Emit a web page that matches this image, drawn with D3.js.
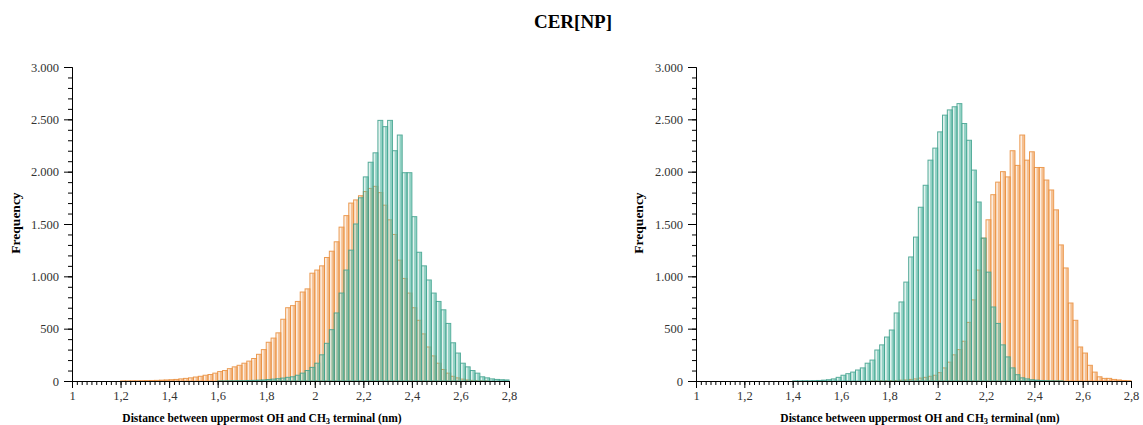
<!DOCTYPE html>
<html>
<head>
<meta charset="utf-8">
<script src="https://cdn.jsdelivr.net/npm/d3@7"></script>
<style>
  body { margin: 0; background: #fff; }
  text { font-family: "Liberation Serif", "Times New Roman", serif; }
</style>
</head>
<body>
<div id="chart"></div>
<script>
var svgWidth = 1143;
var svgHeight = 425;

// histogram bins: 0.02 nm wide, from 1 to 2.8 nm (90 bins)
var binStart = 1.0;
var binWidth = 0.02;

// left panel
var leftOrange = [
  0, 0, 0, 0, 0, 0, 0, 0, 0, 0,
  1, 1, 2, 2, 3, 4, 5, 6, 8, 10,
  12, 15, 20, 25, 30, 38, 45, 55, 62, 75,
  90, 100, 118, 135, 150, 170, 190, 215, 255, 300,
  370, 410, 460, 590, 700, 720, 760, 850, 880, 1030,
  1060, 1100, 1180, 1240, 1330, 1470, 1580, 1700, 1730, 1770,
  1810, 1840, 1860, 1800, 1680, 1540, 1400, 1155, 980, 840,
  700, 580, 450, 325, 240, 170, 110, 75, 45, 30,
  18, 10, 6, 3, 2, 1, 0, 0, 0, 0
];
var leftTeal = [
  0, 0, 0, 0, 0, 0, 0, 0, 0, 0,
  0, 0, 0, 0, 0, 0, 0, 0, 0, 0,
  0, 0, 0, 0, 0, 0, 0, 0, 0, 0,
  1, 1, 2, 2, 3, 3, 5, 6, 8, 10,
  14, 18, 22, 28, 35, 40, 55, 75, 100, 130,
  170, 250, 360, 490, 650, 840, 1060, 1250, 1500, 1750,
  1950, 2090, 2180, 2490, 2430, 2490, 2200, 2350, 1990, 1990,
  1570, 1230, 1100, 965, 840, 760, 680, 550, 365, 267,
  170, 135, 100, 75, 40, 30, 20, 15, 12, 10
];

// right panel
var rightTeal = [
  0, 0, 0, 0, 0, 0, 0, 0, 0, 0,
  0, 0, 0, 0, 0, 0, 0, 0, 0, 0,
  1, 1, 2, 2, 3, 5, 8, 12, 20, 35,
  55, 70, 85, 105, 125, 170, 200, 296, 345, 420,
  487, 650, 755, 945, 1185, 1375, 1660, 1870, 2110, 2225,
  2380, 2540, 2590, 2620, 2650, 2460, 2300, 2015, 1710, 1365,
  1040, 707, 550, 345, 230, 125, 60, 30, 20, 12,
  8, 5, 3, 2, 1, 1, 0, 0, 0, 0,
  0, 0, 0, 0, 0, 0, 0, 0, 0, 0
];
var rightOrange = [
  0, 0, 0, 0, 0, 0, 0, 0, 0, 0,
  0, 0, 0, 0, 0, 0, 0, 0, 0, 0,
  0, 0, 0, 0, 0, 0, 0, 0, 0, 0,
  0, 0, 0, 0, 0, 0, 1, 1, 2, 2,
  3, 5, 8, 10, 15, 20, 28, 35, 45, 55,
  80, 125, 180, 250, 300, 380, 560, 775, 1060, 1365,
  1540, 1780, 1900, 2000, 1950, 2200, 2060, 2350, 2110, 2190,
  2040, 2040, 1920, 1825, 1635, 1300, 1080, 745, 580, 325,
  267, 150, 85, 40, 25, 25, 15, 10, 5, 3
];

var xTicks = [1, 1.2, 1.4, 1.6, 1.8, 2, 2.2, 2.4, 2.6, 2.8];
var yTicks = [0, 500, 1000, 1500, 2000, 2500, 3000];

var orangeColor = { stroke: "#e88a35", fill: "#f0a25c" };
var tealColor = { stroke: "#3a9c88", fill: "#5dbba6" };

// comma decimals and dot thousands like the original
var locale = d3.formatLocale({ decimal: ",", thousands: ".", grouping: [3], currency: ["", ""] });
var fmtY = locale.format(",");
var fmtX = locale.format("~g");

var svg = d3.select("#chart")
  .append("svg")
  .attr("width", svgWidth)
  .attr("height", svgHeight);

svg.append("text")
  .attr("x", 573)
  .attr("y", 28)
  .attr("text-anchor", "middle")
  .attr("font-size", 19)
  .attr("font-weight", "bold")
  .text("CER[NP]");

function drawBars(g, vals, color, x, y) {
  var bw = x(binStart + binWidth) - x(binStart);
  var bars = g.append("g");

  // outlined light bar
  bars.selectAll("rect.outer")
    .data(vals)
    .enter()
    .append("rect")
    .attr("class", "outer")
    .attr("x", (d, i) => x(binStart + i * binWidth))
    .attr("y", d => y(d))
    .attr("width", bw)
    .attr("height", d => y(0) - y(d))
    .attr("fill", color.fill)
    .attr("fill-opacity", 0.18)
    .attr("stroke", color.stroke)
    .attr("stroke-opacity", 0.85)
    .attr("stroke-width", 1);

  // stronger fill on the right part of each bar
  bars.selectAll("rect.inner")
    .data(vals)
    .enter()
    .append("rect")
    .attr("class", "inner")
    .attr("x", (d, i) => x(binStart + i * binWidth) + bw * 0.45)
    .attr("y", d => y(d))
    .attr("width", bw * 0.55)
    .attr("height", d => y(0) - y(d))
    .attr("fill", color.fill)
    .attr("fill-opacity", 0.6);
}

function drawPanel(panel, orangeVals, tealVals) {
  var x = d3.scaleLinear().domain([1, 2.8]).range([panel.left, panel.right]);
  var y = d3.scaleLinear().domain([0, 3000]).range([381, 67]);

  var g = svg.append("g");

  drawBars(g, orangeVals, orangeColor, x, y);
  drawBars(g, tealVals, tealColor, x, y);

  // minor ticks first, then the labelled axis
  g.append("g")
    .attr("transform", `translate(${panel.left}, 0)`)
    .call(d3.axisLeft(y).tickValues(d3.range(0, 3001, 100)).tickSize(4).tickFormat(""));
  var yAxis = g.append("g")
    .attr("transform", `translate(${panel.left}, 0)`)
    .call(d3.axisLeft(y).tickValues(yTicks).tickSize(8).tickSizeOuter(0).tickPadding(5).tickFormat(fmtY));

  var minorX = d3.range(0, 91).map(i => binStart + i * binWidth);
  g.append("g")
    .attr("transform", `translate(0, ${y(0)})`)
    .call(d3.axisBottom(x).tickValues(minorX).tickSize(4).tickFormat(""));
  var xAxis = g.append("g")
    .attr("transform", `translate(0, ${y(0)})`)
    .call(d3.axisBottom(x).tickValues(xTicks).tickSize(7).tickSizeOuter(0).tickPadding(3).tickFormat(fmtX));

  g.selectAll(".domain").attr("stroke", "#000");
  g.selectAll(".tick line").attr("stroke", "#000");
  yAxis.selectAll("text")
    .attr("font-family", "Liberation Serif")
    .attr("font-size", 12.5)
    .attr("fill", "#333");
  xAxis.selectAll("text")
    .attr("font-family", "Liberation Serif")
    .attr("font-size", 12.5)
    .attr("fill", "#333");

  // axis titles
  var xLabel = g.append("text")
    .attr("x", panel.labelX)
    .attr("y", 422)
    .attr("text-anchor", "middle")
    .attr("font-size", 11.5)
    .attr("font-weight", "bold");
  xLabel.append("tspan").text("Distance between uppermost OH and CH");
  xLabel.append("tspan").attr("font-size", 8.5).attr("dy", 2).text("3");
  xLabel.append("tspan").attr("dy", -2).text(" terminal (nm)");

  g.append("text")
    .attr("transform", `translate(${panel.yLabelX}, 223) rotate(-90)`)
    .attr("text-anchor", "middle")
    .attr("font-size", 13.5)
    .attr("font-weight", "bold")
    .text("Frequency");
}

drawPanel({ left: 72, right: 509, labelX: 262, yLabelX: 20 }, leftOrange, leftTeal);
drawPanel({ left: 696, right: 1131, labelX: 920, yLabelX: 643 }, rightOrange, rightTeal);
</script>
</body>
</html>
